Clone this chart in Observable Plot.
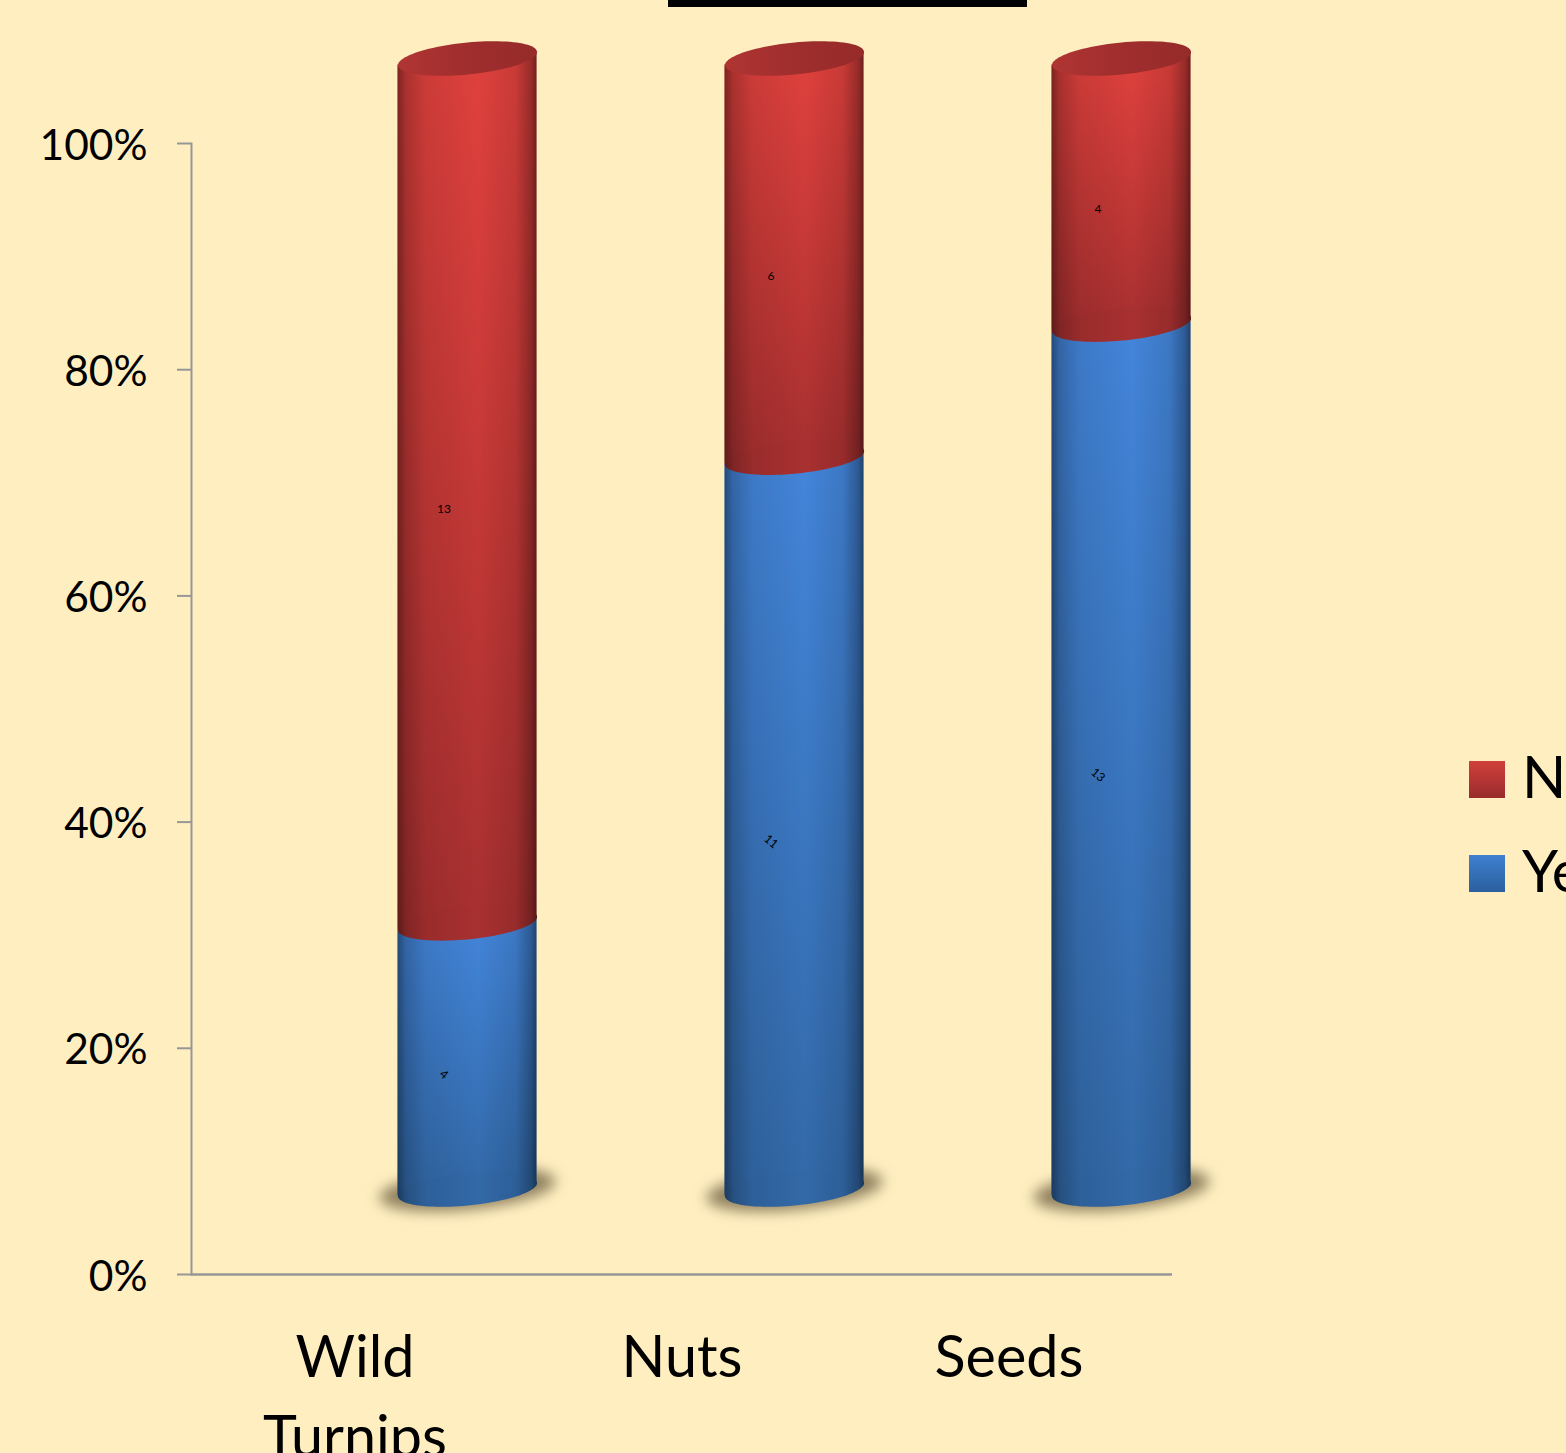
<!DOCTYPE html>
<html>
<head>
<meta charset="utf-8">
<script src="https://cdn.jsdelivr.net/npm/d3@7"></script>
<script src="https://cdn.jsdelivr.net/npm/@observablehq/plot@0.6"></script>
<style>
  html, body { margin: 0; padding: 0; background: #FFEFC0; overflow: hidden; }
  #page { position: relative; width: 1566px; height: 1453px; overflow: hidden; background: #FFEFC0; font-family: Lato, sans-serif; color: #000; }
  #page svg { display: block; }
  .base-shadow { filter: blur(7px); }
  #heading-rule { position: absolute; left: 668px; top: 0; width: 359px; height: 7px; background: #000; }
  .key { position: absolute; left: 1469px; width: 36px; height: 37px; }
  .key-label { position: absolute; left: 1522px; font-size: 58px; line-height: 58px; white-space: nowrap; }
</style>
</head>
<body>
<div id="page"></div>
<script>
// Survey tallies per crop
const crops = ["Wild\nTurnips", "Nuts", "Seeds"];
const yesCounts = [4, 11, 13];
const noCounts = [13, 6, 4];
const yTicks = [0, 20, 40, 60, 80, 100];

// 100% stacked table: Yes at the bottom, No above it
const rows = crops.flatMap((crop, i) => {
  const total = yesCounts[i] + noCounts[i];
  const split = (yesCounts[i] / total) * 100;
  return [
    {crop, answer: "Yes", count: yesCounts[i], start: 0, end: split},
    {crop, answer: "No", count: noCounts[i], start: split, end: 100}
  ];
});
const yesRows = rows.filter((d) => d.answer === "Yes");
const noRows = rows.filter((d) => d.answer === "No");

// Oblique projection of the cylinders relative to the flat axes
const depthX = 112.5;
const depthY = -85;
const labelX = 89;
const labelY = -67;
const slant = 6.5 / 69.5;
const flatten = 16 / 69.5;

// Sheared ellipse used for cylinder ends and the floor shadow
const slantedEllipse = {
  draw(context, size) {
    const a = Math.sqrt(size / Math.PI);
    for (let k = 0; k < 96; ++k) {
      const t = (k / 96) * 2 * Math.PI;
      const px = a * Math.cos(t);
      const py = a * flatten * Math.sin(t) - a * slant * Math.cos(t);
      if (k === 0) context.moveTo(px, py);
      else context.lineTo(px, py);
    }
    context.closePath();
  }
};

// Tilts each bar body so its ends follow the ellipse chord
function tiltBars(index, scales, values, dimensions, context, next) {
  const g = next(index, scales, values, dimensions, context);
  const angle = (Math.atan(slant) * 180) / Math.PI;
  g.querySelectorAll("rect").forEach((rect) => {
    const cx = +rect.getAttribute("x") + +rect.getAttribute("width") / 2;
    rect.setAttribute("transform", `translate(${cx} 0) skewY(${-angle}) translate(${-cx} 0)`);
  });
  return g;
}

const endOptions = {x: "crop", symbol: slantedEllipse, r: 69.5, dx: depthX, dy: depthY};
const barOptions = {x: "crop", y1: "start", y2: "end", dx: depthX, dy: depthY, render: tiltBars};

function segmentMarks(data, body, lower) {
  return [
    Plot.barY(data, {...barOptions, fill: `url(#${body})`}),
    Plot.barY(data, {...barOptions, fill: "url(#shade)"}),
    Plot.dot(data, {...endOptions, y: "start", fill: lower}),
    Plot.dot(data, {...endOptions, y: "start", fill: "url(#shade)"})
  ];
}

const chart = Plot.plot({
  width: 1566,
  height: 1453,
  marginLeft: 191,
  marginRight: 394,
  marginTop: 143,
  marginBottom: 179,
  style: {background: "transparent", fontFamily: "Lato, sans-serif", color: "#000", overflow: "hidden"},
  x: {domain: crops, paddingInner: 0.575, paddingOuter: 0.2875},
  y: {domain: [0, 100]},
  marks: [
    // Floor shadows
    Plot.dot(yesRows, {...endOptions, y: "start", r: 88, fill: "#4a3c22", fillOpacity: 0.62, className: "base-shadow"}),

    // Axes: tick strokes and tick labels are separate so the labels can sit slightly lower
    Plot.axisY({ticks: yTicks, tickFormat: () => "", tickSize: 14, stroke: "#969696", strokeWidth: 2, label: null}),
    Plot.axisY({ticks: yTicks, tickFormat: (d) => `${d}%`, tickSize: 0, tickPadding: 44, fontSize: 42.5, dy: 2.5, fill: "#000", label: null}),
    Plot.axisX({anchor: "bottom", tickSize: 0, tickPadding: 45.5, fontSize: 57.5, lineHeight: 1.39, fill: "#000", label: null}),
    Plot.frame({anchor: "left", stroke: "#969696", strokeWidth: 2}),
    Plot.ruleY([0], {stroke: "#969696", strokeWidth: 2.5}),

    // Cylinders, lower segment first so each upper segment overlaps it
    ...segmentMarks(yesRows, "yes-body", "#3269A8"),
    ...segmentMarks(noRows, "no-body", "#A83030"),
    Plot.dot(noRows, {...endOptions, y: "end", fill: "url(#cap)"}),

    // Counts
    Plot.text(rows, {
      x: "crop",
      y: (d) => (d.start + d.end) / 2,
      text: "count",
      dx: labelX,
      dy: labelY,
      fontSize: 12,
      fill: "#000",
      rotate: (d) => (d.answer === "Yes" ? 40 : 0)
    })
  ]
});

const page = document.getElementById("page");

// Paint servers shared by the bars and the ellipses
const defs = document.createElementNS("http://www.w3.org/2000/svg", "svg");
defs.setAttribute("width", 0);
defs.setAttribute("height", 0);
defs.style.position = "absolute";
defs.innerHTML = `<defs>
  <linearGradient id="yes-body" x1="0" y1="0" x2="0" y2="1">
    <stop offset="0" stop-color="#4385DA"/><stop offset="1" stop-color="#3269A8"/>
  </linearGradient>
  <linearGradient id="no-body" x1="0" y1="0" x2="0" y2="1">
    <stop offset="0" stop-color="#E0413D"/><stop offset="1" stop-color="#A83030"/>
  </linearGradient>
  <linearGradient id="shade" x1="0" y1="0" x2="1" y2="0">
    <stop offset="0" stop-color="#000" stop-opacity="0.45"/>
    <stop offset="0.06" stop-color="#000" stop-opacity="0.24"/>
    <stop offset="0.2" stop-color="#000" stop-opacity="0.09"/>
    <stop offset="0.58" stop-color="#000" stop-opacity="0"/>
    <stop offset="0.85" stop-color="#000" stop-opacity="0.1"/>
    <stop offset="0.96" stop-color="#000" stop-opacity="0.32"/>
    <stop offset="1" stop-color="#000" stop-opacity="0.5"/>
  </linearGradient>
  <linearGradient id="cap" x1="0" y1="0" x2="1" y2="0">
    <stop offset="0" stop-color="#B03533"/><stop offset="0.5" stop-color="#9F2E2D"/><stop offset="1" stop-color="#962B2A"/>
  </linearGradient>
</defs>`;
page.append(defs, chart);

// Section heading rule and series key
const rule = document.createElement("div");
rule.id = "heading-rule";
page.append(rule);

const keyEntries = [
  {label: "No", top: 761, paint: "linear-gradient(#D13F3B, #982C2C)"},
  {label: "Yes", top: 855, paint: "linear-gradient(#3F80D0, #2A5F9E)"}
];
for (const {label, top, paint} of keyEntries) {
  const swatch = document.createElement("div");
  swatch.className = "key";
  swatch.style.top = `${top}px`;
  swatch.style.background = paint;
  const text = document.createElement("div");
  text.className = "key-label";
  text.style.top = `${top - 14}px`;
  text.textContent = label;
  page.append(swatch, text);
}
</script>
</body>
</html>
